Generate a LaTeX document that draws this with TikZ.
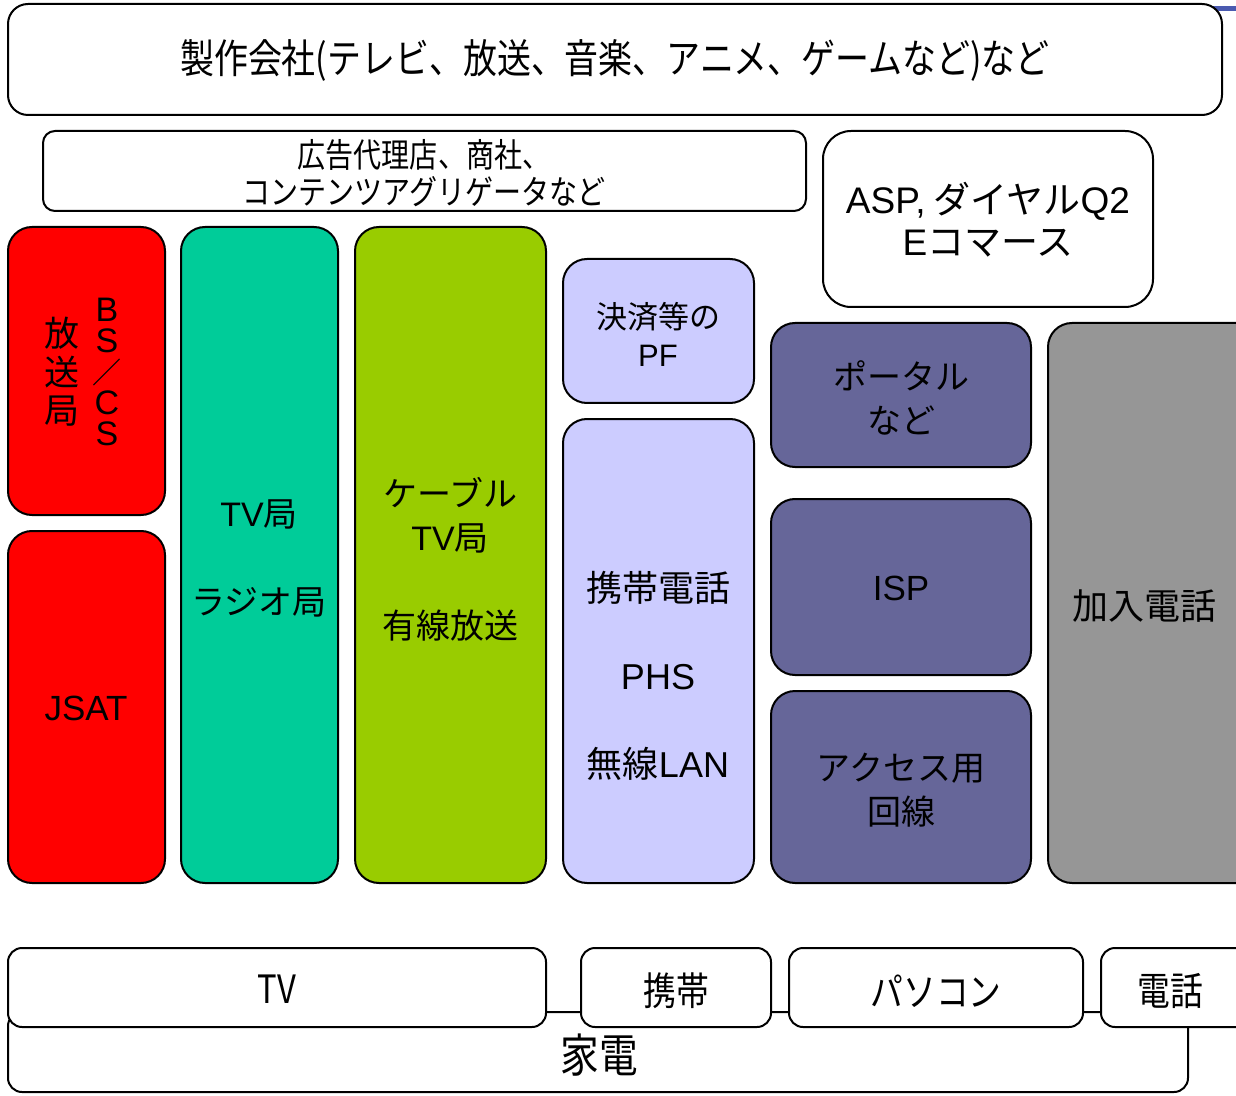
\documentclass[tikz,border=0pt]{standalone}
\usepackage{fontspec}
\setmainfont{Noto Sans CJK JP}
\newfontfamily\narrowjp[FakeStretch=0.84]{Noto Sans CJK JP}
\newfontfamily\lat{Liberation Sans}
\newcommand\tightstack{\lineskiplimit=-50pt\relax\lineskip=0pt\relax}
\definecolor{bsred}{HTML}{FF0000}
\definecolor{tvteal}{HTML}{00CC99}
\definecolor{cablegreen}{HTML}{99CC00}
\definecolor{mobilelav}{HTML}{CCCCFF}
\definecolor{netpurple}{HTML}{666699}
\definecolor{telgray}{HTML}{969696}
\definecolor{headerblue}{HTML}{4A5AB0}

\begin{document}
\begin{tikzpicture}[x=0.5pt,y=-0.5pt,
  box/.style={draw=black,line width=1pt,rounded corners=12pt},
  lowbox/.style={box,fill=white,rounded corners=7pt},
  lbl/.style={align=center,font=\fontsize{17}{22}\selectfont},
  narrowlbl/.style={align=center,font=\narrowjp\fontsize{19.5}{22}\selectfont}]
\useasboundingbox (0,0) rectangle (1236,1096);
\draw[headerblue,line width=2.5pt] (1205,9) -- (1236,9);
% top row
\draw[box,fill=white,rounded corners=10pt] (8,4) rectangle (1222,115);
\node[narrowlbl,font=\narrowjp\fontsize{20.2}{22}\selectfont] (seisaku) at (615,60) {製作会社(テレビ、放送、音楽、アニメ、ゲームなど)など};
\draw[box,fill=white,rounded corners=6pt] (43,131) rectangle (806,211);
\node[narrowlbl,font=\narrowjp\fontsize{16.7}{18.5}\selectfont] (koukoku) at (424,173) {広告代理店、商社、\\コンテンツアグリゲータなど};
\draw[box,fill=white,rounded corners=14pt] (823,131) rectangle (1153,307);
\node[lbl,font=\fontsize{18.5}{21}\selectfont] (asp) at (988,220) {{\lat ASP,} ダイヤル{\lat Q2}\\{\lat E}コマース};
% broadcast
\draw[box,fill=bsred] (8,227) rectangle (165,515);
\node[lbl,font={\fontsize{17}{15.4}\selectfont\tightstack}] (bscs) at (107,372) {{\lat B}\\{\lat S}\\{\fontsize{14.5}{14.5}\selectfont ／}\\{\lat C}\\{\lat S}};
\node[lbl,font={\fontsize{17.5}{19.25}\selectfont\tightstack}] (housou) at (62,372) {放\\送\\局};
\draw[box,fill=bsred] (8,531) rectangle (165,883);
\node[lbl,font=\lat\fontsize{17.5}{22}\selectfont] (jsat) at (86,708) {JSAT};
\draw[box,fill=tvteal] (181,227) rectangle (338,883);
\node[lbl] (tvkyoku) at (259,558) {{\lat TV}局\\[22pt]ラジオ局};
\draw[box,fill=cablegreen] (355,227) rectangle (546,883);
\node[lbl] (cable) at (450,559) {ケーブル\\{\lat TV}局\\[22pt]有線放送};
% mobile
\draw[box,fill=mobilelav] (563,259) rectangle (754,403);
\node[lbl,font=\fontsize{15.5}{19}\selectfont] (kessai) at (658,334) {決済等の\\{\lat PF}};
\draw[box,fill=mobilelav] (563,419) rectangle (754,883);
\node[lbl,font=\fontsize{18}{22}\selectfont] (keitai) at (658,676) {携帯電話\\[22pt]{\lat PHS}\\[22pt]無線{\lat LAN}};
% internet
\draw[box,fill=netpurple] (771,323) rectangle (1031,467);
\node[lbl] (portal) at (901,398) {ポータル\\など};
\draw[box,fill=netpurple] (771,499) rectangle (1031,675);
\node[lbl,font=\lat\fontsize{17.5}{22}\selectfont] (isp) at (901,588) {ISP};
\draw[box,fill=netpurple] (771,691) rectangle (1031,883);
\node[lbl] (access) at (901,790) {アクセス用\\回線};
\draw[box,fill=telgray] (1048,323) rectangle (1260,883);
\node[lbl,font=\fontsize{18}{22}\selectfont] (kanyuu) at (1144,606) {加入電話};
% terminals
\draw[lowbox] (8,1012) rectangle (1188,1092);
\node[narrowlbl,font=\narrowjp\fontsize{23}{26}\selectfont] (kaden) at (599,1055) {家電};
\draw[lowbox] (8,948) rectangle (546,1027);
\node[narrowlbl] (tv) at (277,989) {TV};
\draw[lowbox] (581,948) rectangle (771,1027);
\node[narrowlbl] (mobile) at (676,991) {携帯};
\draw[lowbox] (789,948) rectangle (1083,1027);
\node[narrowlbl] (pc) at (936,991) {パソコン};
\draw[lowbox] (1101,948) rectangle (1260,1027);
\node[narrowlbl] (phone) at (1170,991) {電話};
\end{tikzpicture}
\end{document}
